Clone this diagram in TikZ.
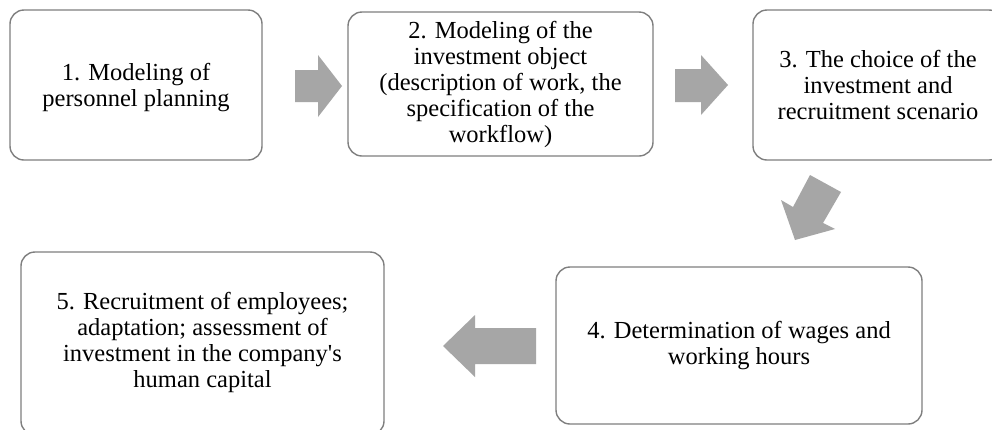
\documentclass[tikz,border=0pt]{standalone}
\usepackage{fontspec}
\setmainfont{Liberation Serif}
\begin{document}
\begin{tikzpicture}[x=1pt,y=-1pt,
  stepbox/.style={draw=boxgray, line width=1.4pt, rounded corners=14pt, fill=white,
    align=center, inner sep=0pt, font=\fontsize{24.5}{26}\selectfont, text=black},
  blockarrow/.style={fill=arrowgray, draw=none}]
\definecolor{boxgray}{HTML}{7F7F7F}
\definecolor{arrowgray}{HTML}{A6A6A6}
\useasboundingbox (0,0) rectangle (992,429);
\clip (0,0) rectangle (992,429);
\fill[white] (0,0) rectangle (992,429);

\node[stepbox, minimum width=252pt, minimum height=150pt] (b1) at (136,85) {};
\node[align=center, font=\fontsize{24.5}{26}\selectfont] (t1) at (136,88)
  {1. Modeling of\\personnel planning};
\node[stepbox, minimum width=305pt, minimum height=144pt] (b2) at (500.5,84)
  {2. Modeling of the\\investment object\\(description of work, the\\specification of the\\workflow)};
\node[stepbox, minimum width=250pt, minimum height=150pt] (b3) at (878,85)
  {3. The choice of the\\investment and\\recruitment scenario};
\node[stepbox, minimum width=366pt, minimum height=157pt] (b4) at (739,345.5)
  {4. Determination of wages and\\working hours};
\node[stepbox, minimum width=363pt, minimum height=183pt] (b5) at (202.5,343.5) {};
\node[align=center, font=\fontsize{24.5}{26}\selectfont] (t5) at (202.5,342)
  {5. Recruitment of employees;\\adaptation; assessment of\\investment in the company\textquotesingle s\\human capital};

% arrow 1 -> 2
\coordinate (a1) at (342,86);
\fill[blockarrow] (a1) -- (318,55) -- (318,70) -- (295,70) -- (295,102) -- (318,102) -- (318,117) -- cycle;
% arrow 2 -> 3
\coordinate (a2) at (728,85);
\fill[blockarrow] (a2) -- (701,55) -- (701,69) -- (675,69) -- (675,102) -- (701,102) -- (701,115) -- cycle;
% arrow 3 -> 4 (diagonal)
\coordinate (a3) at (795,240);
\fill[blockarrow] (a3) -- (835,229) -- (823,223) -- (841,192) -- (810,175) -- (793,207) -- (781,200) -- cycle;
% arrow 4 -> 5
\coordinate (a4) at (443,346);
\fill[blockarrow] (a4) -- (475,315) -- (475,328) -- (536,328) -- (536,364) -- (475,364) -- (475,377) -- cycle;
\end{tikzpicture}
\end{document}
